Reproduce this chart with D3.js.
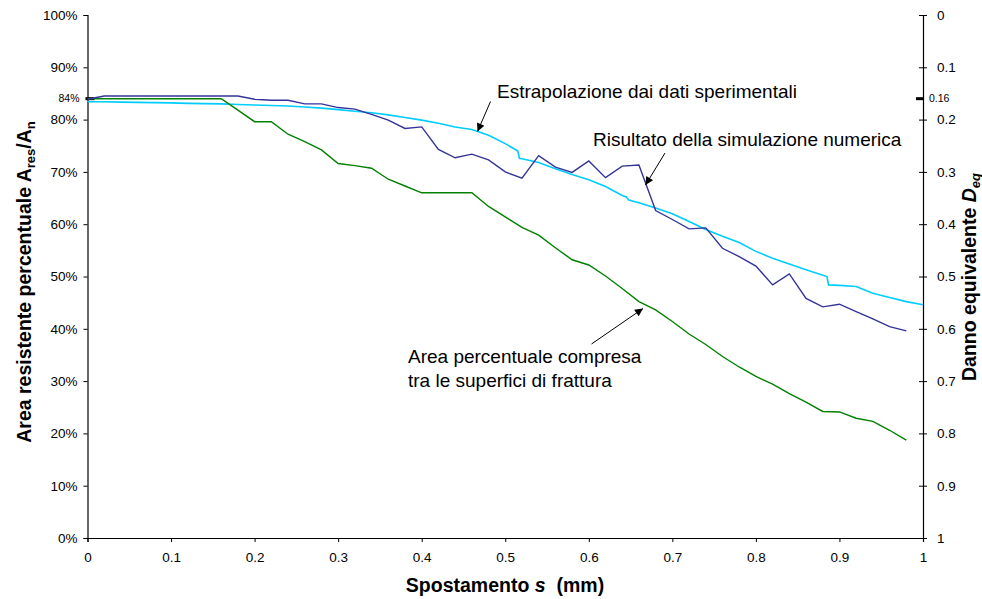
<!DOCTYPE html>
<html>
<head>
<meta charset="utf-8">
<script src="https://cdn.jsdelivr.net/npm/d3@7"></script>
<style>
  html, body { margin: 0; padding: 0; background: #fff; }
  svg { display: block; font-family: "Liberation Sans", Arial, sans-serif; }
</style>
</head>
<body>
<svg id="chart" width="982" height="599"></svg>
<script>
// ---------- data ----------
const sGrid = [0,0.02,0.04,0.06,0.08,0.10,0.12,0.14,0.16,0.18,0.20,0.22,0.24,0.26,0.28,0.30,0.32,0.34,0.36,0.38,0.40,0.42,0.44,0.46,0.48,0.50,0.52,0.54,0.56,0.58,0.60,0.62,0.64,0.66,0.68,0.70,0.72,0.74,0.76,0.78,0.80,0.82,0.84,0.86,0.88,0.90,0.92,0.94,0.96,0.98];
const simulazione = [83.9,84.5,84.5,84.5,84.5,84.5,84.5,84.5,84.5,84.5,83.9,83.7,83.7,83.0,83.0,82.3,82.0,81.0,79.9,78.3,78.6,74.3,72.7,73.4,72.3,70.0,68.8,73.1,70.9,69.9,72.1,68.9,71.1,71.3,62.6,60.9,59.1,59.3,55.4,53.8,52.0,48.4,50.5,45.8,44.2,44.7,43.3,41.9,40.4,39.6];
const areaCompresa = [84.0,84.0,84.0,84.0,84.0,84.0,84.0,84.0,84.0,81.8,79.6,79.6,77.2,75.8,74.2,71.6,71.2,70.7,68.6,67.3,66.0,66.0,66.0,66.0,63.4,61.4,59.4,57.9,55.5,53.2,52.2,50.1,47.7,45.2,43.6,41.4,39.0,37.0,34.7,32.7,30.9,29.4,27.6,26.0,24.2,24.1,22.9,22.3,20.6,18.7];
const sEstrap = [0,0.02,0.04,0.06,0.08,0.10,0.12,0.14,0.16,0.18,0.20,0.22,0.24,0.26,0.28,0.30,0.32,0.34,0.36,0.38,0.40,0.42,0.44,0.46,0.48,0.50,0.515,0.517,0.52,0.54,0.56,0.58,0.60,0.62,0.64,0.645,0.648,0.66,0.68,0.70,0.72,0.74,0.76,0.78,0.80,0.82,0.84,0.86,0.885,0.887,0.90,0.92,0.94,0.96,0.98,1.00];
const estrapolazione = [83.4,83.4,83.35,83.3,83.25,83.2,83.1,83.05,83.0,82.9,82.8,82.7,82.6,82.4,82.2,81.9,81.6,81.3,80.9,80.4,79.9,79.3,78.6,78.1,77.0,75.4,74.0,72.6,72.5,71.8,70.6,69.5,68.5,67.2,65.5,65.2,64.6,64.1,63.1,62.0,60.5,59.0,57.7,56.5,54.8,53.5,52.4,51.3,50.0,48.4,48.3,48.1,46.8,46.0,45.2,44.6];
const xTicks = [0,0.1,0.2,0.3,0.4,0.5,0.6,0.7,0.8,0.9,1];
const xTickLabels = ["0","0.1","0.2","0.3","0.4","0.5","0.6","0.7","0.8","0.9","1"];
const leftTicks = [0,10,20,30,40,50,60,70,80,90,100];
const leftTickLabels = ["0%","10%","20%","30%","40%","50%","60%","70%","80%","90%","100%"];
const rightTicks = [0,0.1,0.2,0.3,0.4,0.5,0.6,0.7,0.8,0.9,1];
const rightTickLabels = ["0","0.1","0.2","0.3","0.4","0.5","0.6","0.7","0.8","0.9","1"];
const markLeft = 84, markLeftLabel = "84%";
const markRight = 0.16, markRightLabel = "0.16";

// ---------- layout ----------
const svg = d3.select("#chart");
const X0 = 87.5, X1 = 923, Y0 = 538, Y1 = 15;
const x = d3.scaleLinear().domain([0,1]).range([X0, X1]);
const y = d3.scaleLinear().domain([0,100]).range([Y0, Y1]);
const yR = d3.scaleLinear().domain([0,1]).range([Y1, Y0]);

// left axis
const gL = svg.append("g").attr("transform", `translate(${X0},0)`)
  .call(d3.axisLeft(y).tickValues(leftTicks).tickFormat((d,i)=>leftTickLabels[i]).tickSizeOuter(0).tickSize(4).tickPadding(6));
// right axis
const gR = svg.append("g").attr("transform", `translate(${X1},0)`)
  .call(d3.axisRight(yR).tickValues(rightTicks).tickFormat((d,i)=>rightTickLabels[i]).tickSizeOuter(0).tickSize(4).tickPadding(10));
gR.selectAll(".tick line").attr("x1", -4);
// bottom axis
const gB = svg.append("g").attr("transform", `translate(0,${Y0})`)
  .call(d3.axisBottom(x).tickValues(xTicks).tickFormat((d,i)=>xTickLabels[i]).tickSizeOuter(0).tickSize(4).tickPadding(10));

[gL,gR,gB].forEach(g=>{
  g.attr("font-family", null).attr("font-size", null);
  g.selectAll("text").attr("font-size", 13.5).attr("fill", "#000");
  g.selectAll("line").attr("stroke", "#000");
  g.select(".domain").attr("stroke", "#000").attr("stroke-width", 1.2);
});

// special marks 84% and 0.16
svg.append("line").attr("x1", X0-2).attr("x2", X0+7).attr("y1", y(markLeft)).attr("y2", y(markLeft))
  .attr("stroke", "#000").attr("stroke-width", 3);
svg.append("text").attr("x", X0-8).attr("y", y(markLeft)).attr("dy", "0.35em")
  .attr("text-anchor", "end").attr("font-size", 10.5).text(markLeftLabel);
svg.append("line").attr("x1", X1-7).attr("x2", X1+1).attr("y1", yR(markRight)).attr("y2", yR(markRight))
  .attr("stroke", "#000").attr("stroke-width", 3);
svg.append("text").attr("x", X1+6).attr("y", yR(markRight)).attr("dy", "0.35em")
  .attr("font-size", 10.5).text(markRightLabel);

// lines
const line = d3.line().x(d=>x(d[0])).y(d=>y(d[1]));
svg.append("path").datum(sEstrap.map((s,i)=>[s,estrapolazione[i]]))
  .attr("d", line).attr("fill","none").attr("stroke","#00CCFF").attr("stroke-width",1.6);
svg.append("path").datum(sGrid.map((s,i)=>[s,areaCompresa[i]]))
  .attr("d", line).attr("fill","none").attr("stroke","#008000").attr("stroke-width",1.4);
svg.append("path").datum(sGrid.map((s,i)=>[s,simulazione[i]]))
  .attr("d", line).attr("fill","none").attr("stroke","#333399").attr("stroke-width",1.4);

// arrows
svg.append("defs").append("marker").attr("id","arr").attr("viewBox","0 0 10 10")
  .attr("refX",10).attr("refY",5).attr("markerWidth",11).attr("markerHeight",8)
  .attr("markerUnits","userSpaceOnUse").attr("orient","auto")
  .append("path").attr("d","M0,0 L10,5 L0,10 z").attr("fill","#000");
function arrow(x1,y1,x2,y2){
  svg.append("line").attr("x1",x1).attr("y1",y1).attr("x2",x2).attr("y2",y2)
    .attr("stroke","#000").attr("stroke-width",1).attr("marker-end","url(#arr)");
}
arrow(490.5, 101.5, 477.5, 131.5);
arrow(665, 153, 645.5, 185);
arrow(591.5, 344, 643, 308.5);

// annotation texts
const annSize = 19;
svg.append("text").attr("x",497).attr("y",98).attr("font-size",annSize).text("Estrapolazione dai dati sperimentali");
svg.append("text").attr("x",593).attr("y",146).attr("font-size",annSize).text("Risultato della simulazione numerica");
svg.append("text").attr("x",408).attr("y",363).attr("font-size",annSize).text("Area percentuale compresa");
svg.append("text").attr("x",408).attr("y",386.5).attr("font-size",annSize).text("tra le superfici di frattura");

// axis titles
const titleSize = 19.5, subSize = 13;
const tL = svg.append("text").attr("transform","translate(31,282) rotate(-90)")
  .attr("text-anchor","middle").attr("font-size",titleSize).attr("font-weight","bold");
tL.append("tspan").text("Area resistente percentuale A");
tL.append("tspan").attr("font-size",subSize).attr("dy",4).text("res");
tL.append("tspan").attr("dy",-4).text("/A");
tL.append("tspan").attr("font-size",subSize).attr("dy",4).text("n");

const tR = svg.append("text").attr("transform","translate(976,277) rotate(-90)")
  .attr("text-anchor","middle").attr("font-size",titleSize).attr("font-weight","bold");
tR.append("tspan").text("Danno equivalente ");
tR.append("tspan").attr("font-style","italic").text("D");
tR.append("tspan").attr("font-style","italic").attr("font-size",subSize).attr("dy",4).text("eq");

const tB = svg.append("text").attr("x",505).attr("y",592)
  .attr("text-anchor","middle").attr("font-size",titleSize).attr("font-weight","bold").attr("xml:space","preserve");
tB.append("tspan").text("Spostamento ");
tB.append("tspan").attr("font-style","italic").text("s");
tB.append("tspan").text("  (mm)");
</script>
</body>
</html>
